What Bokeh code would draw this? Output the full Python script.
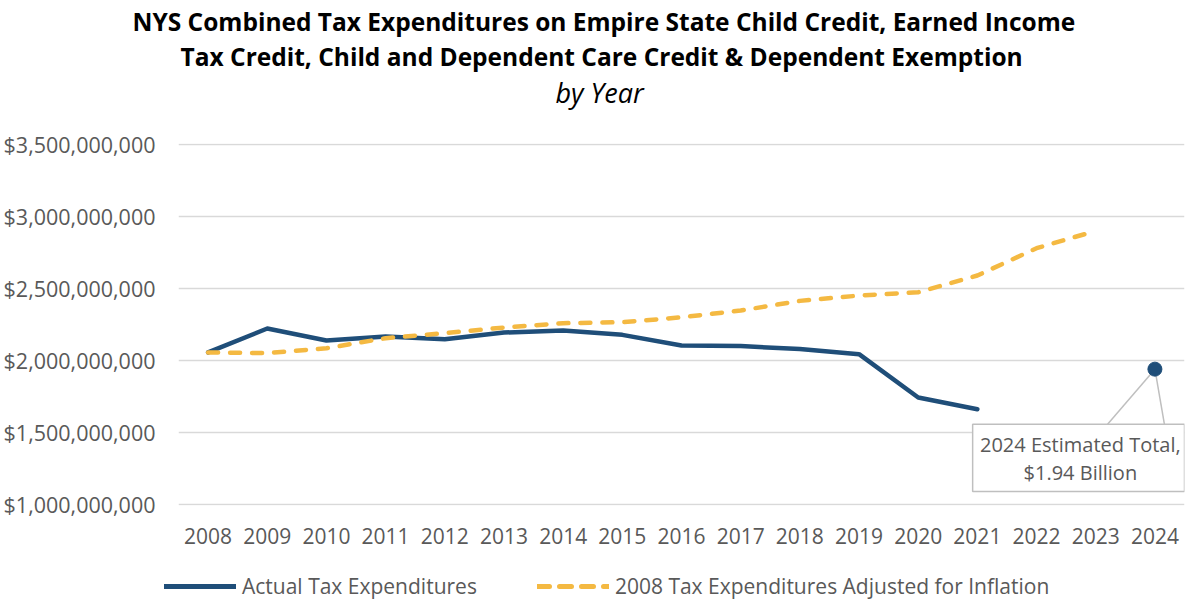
from bokeh.plotting import figure
from bokeh.layouts import column
from bokeh.models import (Range1d, FixedTicker, NumeralTickFormatter, Title, Legend, LegendItem)
from bokeh.core.properties import value
from bokeh.embed import file_html
from bokeh.resources import INLINE

years = list(range(2008, 2025))
actual_years = list(range(2008, 2022))
actual = [2.056e9, 2.222e9, 2.139e9, 2.167e9, 2.148e9, 2.194e9, 2.208e9, 2.178e9,
          2.104e9, 2.100e9, 2.080e9, 2.044e9, 1.743e9, 1.662e9]
infl_years = list(range(2008, 2024))
inflation = [2.056e9, 2.051e9, 2.085e9, 2.155e9, 2.190e9, 2.229e9, 2.259e9, 2.266e9,
             2.300e9, 2.347e9, 2.414e9, 2.451e9, 2.474e9, 2.590e9, 2.780e9, 2.900e9]
est_year = [2024]
est_value = [1.94e9]
y_ticks = [1.0e9, 1.5e9, 2.0e9, 2.5e9, 3.0e9, 3.5e9]
series_names = ["Actual Tax Expenditures", "2008 Tax Expenditures Adjusted for Inflation"]

BLUE = "#1F4E79"
GOLD = "#F4B942"
GREY_TXT = "#595959"
FONT = "Open Sans"
LW = 4.5
DASH = "10 12"

PX = 2.5e9 / 360  # value per pixel, a 1px pad so the edge gridlines show
p = figure(frame_width=1006, frame_height=362, output_backend="svg", toolbar_location=None,
           x_range=Range1d(2007.5, 2024.5), y_range=Range1d(1.0e9 - PX, 3.5e9 + PX),
           min_border_left=178, min_border_right=4, min_border_top=0, min_border_bottom=64)
p.outline_line_color = None
p.title.visible = False
p.frame_align = False

# titles (last added is outermost)
p.add_layout(Title(text=" ", text_font_size="1px", standoff=29), "above")
p.add_layout(Title(text="by Year", align="left", text_font=FONT, text_font_size="27px",
                   text_font_style="italic", text_color="black", standoff=2, offset=377), "above")
p.add_layout(Title(text="Tax Credit, Child and Dependent Care Credit & Dependent Exemption",
                   align="left", text_font=FONT, text_font_size="24.5px", standoff=-4,
                   offset=2, text_font_style="bold", text_color="black"), "above")
p.add_layout(Title(text="NYS Combined Tax Expenditures on Empire State Child Credit, Earned Income",
                   align="left", text_font=FONT, text_font_size="24.5px", standoff=4,
                   offset=-46, text_font_style="bold", text_color="black"), "above")

# axes
p.yaxis.ticker = FixedTicker(ticks=y_ticks)
p.yaxis.formatter = NumeralTickFormatter(format="$0,0")
p.xaxis.ticker = FixedTicker(ticks=years)
for ax in (p.xaxis[0], p.yaxis[0]):
    ax.axis_line_color = None
    ax.major_tick_line_color = None
    ax.minor_tick_line_color = None
    ax.major_label_text_font = FONT
    ax.major_label_text_font_size = "21px"
    ax.major_label_text_color = GREY_TXT
p.yaxis.major_label_text_font_size = "21.5px"
p.yaxis.major_label_standoff = 17
p.xaxis.major_label_standoff = 16
p.xgrid.grid_line_color = None
p.ygrid.ticker = FixedTicker(ticks=y_ticks)
p.ygrid.grid_line_color = "#D9D9D9"
p.ygrid.grid_line_width = 1.5

# series
p.line(actual_years, actual, line_color=BLUE, line_width=LW, line_join="round", line_cap="round")
p.line(infl_years, inflation, line_color=GOLD, line_width=LW, line_dash=DASH,
       line_cap="round", line_join="round")

# callout
bx_left, bx_right, bx_top, bx_bottom = 2020.92, 2024.5, 1.558e9, 1.09e9
p.segment(x0=[2024, 2024], y0=[est_value[0]] * 2, x1=[2023.2, 2024.16], y1=[bx_top, bx_top],
          line_color="#BFBFBF", line_width=1.5)
p.quad(left=[bx_left], right=[bx_right], top=[bx_top], bottom=[bx_bottom],
       fill_color="white", line_color="#BFBFBF", line_width=1.5)
p.text(x=[2022.74, 2022.74], y=[1.418e9, 1.222e9],
       text=["2024 Estimated Total,", "$1.94 Billion"],
       text_align="center", text_baseline="middle", text_font=value(FONT),
       text_font_size="20px", text_color=GREY_TXT)
p.scatter(est_year, est_value, size=14, fill_color=BLUE, line_color=BLUE)

# legend strip below the chart (swatch renderers sit outside the visible range)
lf = figure(width=1188, height=34, output_backend="svg", toolbar_location=None,
            x_range=Range1d(0, 1), y_range=Range1d(0, 1), x_axis_type=None, y_axis_type=None,
            min_border=0)
lf.outline_line_color = None
lf.grid.visible = False
lf.frame_align = False
la = lf.line(x=[5, 6], y=[5, 6], line_color=BLUE, line_width=5, line_cap="round")
lb = lf.line(x=[5, 6], y=[5, 6], line_color=GOLD, line_width=5, line_dash="12 10",
             line_cap="round")
legend = Legend(items=[LegendItem(label=series_names[0], renderers=[la]),
                       LegendItem(label=series_names[1], renderers=[lb])],
                orientation="horizontal", location=(164, 3), border_line_color=None,
                background_fill_alpha=0,
                label_text_font=FONT, label_text_font_size="21px", label_text_color=GREY_TXT,
                glyph_width=72, spacing=60, margin=0, padding=0, label_standoff=6)
lf.add_layout(legend, "center")

layout = column(p, lf, spacing=0)
open("out.html", "w").write(file_html(layout, INLINE))
